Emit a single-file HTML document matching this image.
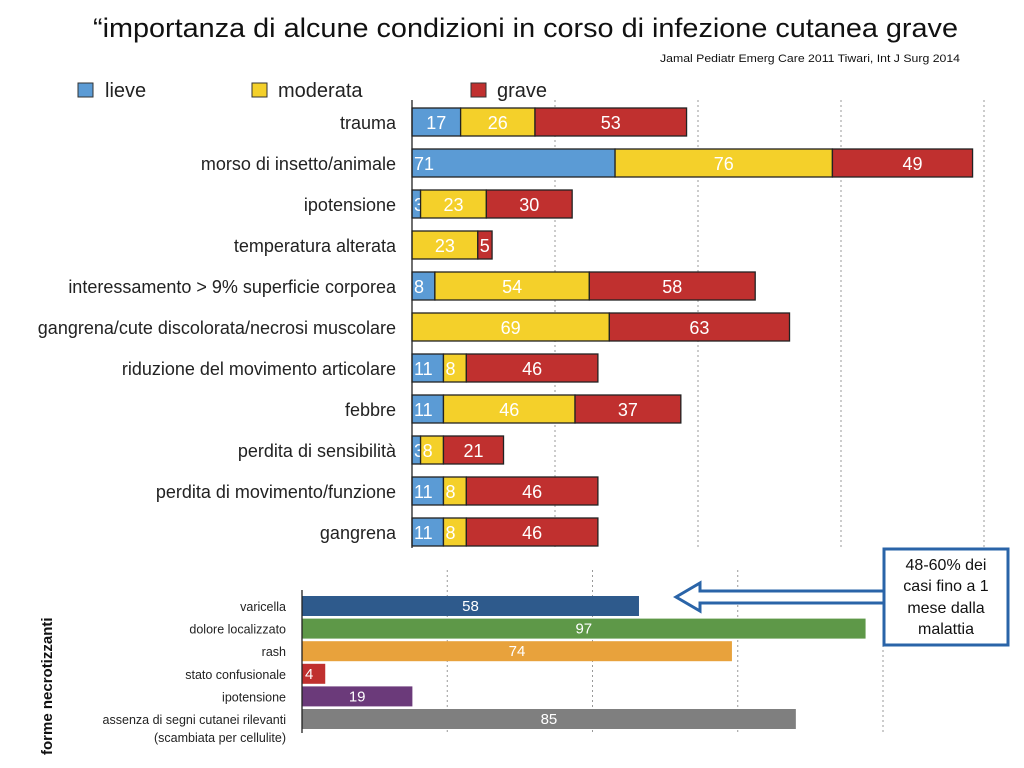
<!DOCTYPE html>
<html><head><meta charset="utf-8"><style>
html,body{margin:0;padding:0;background:#fff;}
svg{display:block;font-family:"Liberation Sans",sans-serif;}
</style></head><body>
<svg id="chart" width="1024" height="768" viewBox="0 0 1024 768">
<text x="93" y="37" font-size="27" fill="#111" textLength="865" lengthAdjust="spacingAndGlyphs">“importanza di alcune condizioni in corso di infezione cutanea grave</text>
<text x="960" y="62" font-size="11" fill="#111" text-anchor="end" textLength="300" lengthAdjust="spacingAndGlyphs">Jamal Pediatr Emerg Care 2011  Tiwari, Int J Surg 2014</text>
<g>
<rect x="78" y="83" width="15" height="14" fill="#5b9bd5" stroke="#333"/>
<text x="105" y="97" font-size="20" fill="#222">lieve</text>
<rect x="252" y="83" width="15" height="14" fill="#f4d02a" stroke="#333"/>
<text x="278" y="97" font-size="20" fill="#222">moderata</text>
<rect x="471" y="83" width="15" height="14" fill="#c0302f" stroke="#333"/>
<text x="497" y="97" font-size="20" fill="#222">grave</text>
</g>
<g id="topChart"></g>
<g id="bottomChart"></g>
<text transform="translate(52,755) rotate(-90)" font-size="15" font-weight="bold" fill="#111">forme necrotizzanti</text>
<g>
<polygon points="676,597 700,583 700,591 884,591 884,603 700,603 700,611" fill="#fff" stroke="#2a64a8" stroke-width="3"/>
</g>
<g>
<rect x="884" y="549" width="124" height="96" fill="#fff" stroke="#2a64a8" stroke-width="3"/>
<text font-size="16" fill="#111" text-anchor="middle">
<tspan x="946" y="570">48-60% dei</tspan><tspan x="946" y="591">casi fino a 1</tspan><tspan x="946" y="613">mese dalla</tspan><tspan x="946" y="634">malattia</tspan></text>
</g>
</svg>
<script>
const topCategories=["trauma","morso di insetto/animale","ipotensione","temperatura alterata","interessamento > 9% superficie corporea","gangrena/cute discolorata/necrosi muscolare","riduzione del movimento articolare","febbre","perdita di sensibilità","perdita di movimento/funzione","gangrena"];
const lieve=[17,71,3,0,8,0,11,11,3,11,11];
const moderata=[26,76,23,23,54,69,8,46,8,8,8];
const grave=[53,49,30,5,58,63,46,37,21,46,46];
const topTicks=[0,50,100,150,200];
const botCategories=["varicella","dolore localizzato","rash","stato confusionale","ipotensione","assenza di segni cutanei rilevanti"];
const botValues=[58,97,74,4,19,85];
const botTicks=[0,25,50,75,100];
const botColors=["#2e5a8c","#5e9848","#e8a23c","#c0302f","#6b3a7a","#7f7f7f"];
const NS="http://www.w3.org/2000/svg";
function mk(tag,attrs,parent){const e=document.createElementNS(NS,tag);for(const k in attrs)e.setAttribute(k,attrs[k]);parent.appendChild(e);return e;}
const xTop=v=>412+v*2.86;
const yTop=i=>108+i*41;
const gTop=document.getElementById('topChart');
topTicks.slice(1).forEach(t=>{const l=mk('line',{x1:xTop(t),x2:xTop(t),y1:100,y2:548,stroke:'#999','stroke-dasharray':'2,3'},gTop);

});
const colors=["#5b9bd5","#f4d02a","#c0302f"];
const series=[lieve,moderata,grave];const sn=["lieve","moderata","grave"];
topCategories.forEach((c,i)=>{
 const t=mk('text',{x:396,y:yTop(i)+21,'font-size':18,'text-anchor':'end',fill:'#222'},gTop);t.textContent=c;
 
 
 let acc=0;
 series.forEach((s,k)=>{const v=s[i];if(!v)return;
  const r=mk('rect',{x:xTop(acc),y:yTop(i),width:xTop(acc+v)-xTop(acc),height:28,fill:colors[k],stroke:'#222','stroke-width':1.3},gTop);
  
  
  const w=v*2.86;const lx=w<40?xTop(acc)+2:xTop(acc)+w/2;
  const tx=mk('text',{x:lx,y:yTop(i)+21,'font-size':18,fill:'#fff','text-anchor':w<40?'start':'middle'},gTop);tx.textContent=v;
  if(i===1&&k===0){tx.setAttribute('x',xTop(0)+2);tx.setAttribute('text-anchor','start');}
  if(i===1&&k===2){tx.setAttribute('x',xTop(acc+v)-60);}
  
  
  acc+=v;});
});
const ax=mk('line',{x1:412,x2:412,y1:100,y2:548,stroke:'#222','stroke-width':1.3},gTop);


const xBot=v=>302+v*5.81;
const yBot=i=>596+i*22.6;
const gBot=document.getElementById('bottomChart');
botTicks.slice(1).forEach(t=>{const l=mk('line',{x1:xBot(t),x2:xBot(t),y1:570,y2:733,stroke:'#999','stroke-dasharray':'2,3'},gBot);

});
botCategories.forEach((c,i)=>{
 const r=mk('rect',{x:302,y:yBot(i),width:xBot(botValues[i])-302,height:20,fill:botColors[i]},gBot);
 
 
 const w=botValues[i]*5.81;
 const tx=mk('text',{x:w<30?305:302+w/2,y:yBot(i)+15,'font-size':15,fill:'#fff','text-anchor':w<30?'start':'middle'},gBot);tx.textContent=botValues[i];
 
 
 const t=mk('text',{x:286,y:yBot(i)+15,'font-size':12.5,'text-anchor':'end',fill:'#222'},gBot);t.textContent=c;
 
 
});
const sub=mk('text',{x:286,y:742,'font-size':12.5,'text-anchor':'end',fill:'#222'},gBot);sub.textContent="(scambiata per cellulite)";


const ax2=mk('line',{x1:302,x2:302,y1:590,y2:733,stroke:'#222','stroke-width':1.3},gBot);


</script>
</body></html>
